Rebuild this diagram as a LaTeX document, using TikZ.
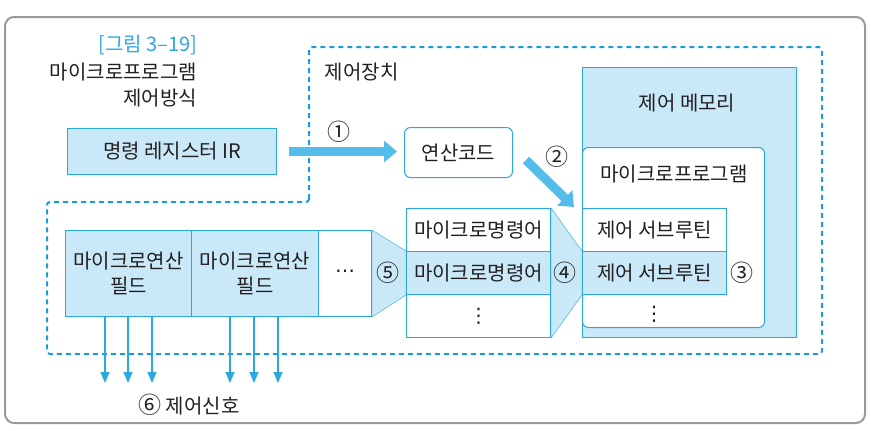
\documentclass[tikz,border=0pt]{standalone}
\usepackage{fontspec}
\setmainfont{Noto Sans CJK KR}
\newfontfamily\symfont{DejaVu Sans}
\usetikzlibrary{arrows.meta,backgrounds}
\definecolor{cellfill}{HTML}{C9E9F9}
\definecolor{cellline}{HTML}{2BA8E0}
\definecolor{dashblue}{HTML}{1E9BD7}
\definecolor{arrowfill}{HTML}{55BDEA}
\definecolor{framegray}{HTML}{9A9A9A}
\definecolor{inkgray}{HTML}{231F20}

\begin{document}
\begin{tikzpicture}[x=1pt,y=-1pt,line width=1pt,
  txt/.style={font=\fontsize{20}{25}\selectfont,text=inkgray},
  num/.style={font=\fontsize{23}{25}\selectfont,text=inkgray},
  cell/.style={draw=cellline,txt,inner sep=0,anchor=north west,align=center},
  bigarrow/.style={draw=arrowfill,line width=9pt,-{Triangle[width=21pt,length=13pt]}},
  sigarrow/.style={draw=cellline,line width=1.2pt,-{Triangle[width=9pt,length=11pt]}}]
  \useasboundingbox (0,0) rectangle (871,431);
  % frame and control unit boundary
  \draw[framegray,line width=2pt,rounded corners=9pt] (5,17) rectangle (865,423);
  \draw[dashblue,line width=2pt,dash pattern=on 5pt off 4pt,rounded corners=3pt]
    (309,202) -- (309,47) -- (822,47) -- (822,354) -- (47,354) -- (47,202) -- cycle;

  % titles
  \node[txt,text=cellline,anchor=east] (title) at (201,45) {[그림 3–19]};
  \node[txt,anchor=east] (sub-a) at (201,72) {마이크로프로그램};
  \node[txt,anchor=east] (sub-b) at (201,98) {제어방식};
  \node[txt,anchor=west] (unit) at (321,72) {제어장치};

  % instruction register and opcode
  \node[cell,fill=cellfill,minimum width=209pt,minimum height=46pt] (ir) at (67,128) {명령 레지스터 IR};
  \node[cell,fill=white,rounded corners=6pt,minimum width=108pt,minimum height=50pt] (opcode) at (404,127) {연산코드};

  % control memory
  \node[cell,fill=cellfill,minimum width=214pt,minimum height=270pt] (cmem) at (582,67) {};
  \node[txt] (cmem-lbl) at (687,103) {제어 메모리};
  \node[cell,fill=white,rounded corners=6pt,minimum width=182pt,minimum height=180pt] (mprog) at (582,147) {};
  \node[txt] (mprog-lbl) at (674,174) {마이크로프로그램};
  \node[cell,fill=white,minimum width=144pt,minimum height=43pt] (sr-1) at (582,208) {제어 서브루틴};
  \node[cell,fill=cellfill,minimum width=144pt,minimum height=43pt] (sr-2) at (582,251) {제어 서브루틴};
  \node[txt] (sr-dots) at (654,314) {\symfont ⋮};

  % micro instructions
  \node[cell,fill=white,minimum width=144pt,minimum height=43pt] (mi-1) at (406,208) {마이크로명령어};
  \node[cell,fill=cellfill,minimum width=144pt,minimum height=43pt] (mi-2) at (406,251) {마이크로명령어};
  \node[cell,fill=white,minimum width=144pt,minimum height=43pt] (mi-3) at (406,294) {\symfont ⋮};

  % micro operation fields
  \node[cell,fill=cellfill,minimum width=126pt,minimum height=86pt] (fld-1) at (65,230) {마이크로연산\\필드};
  \node[cell,fill=cellfill,minimum width=127pt,minimum height=86pt] (fld-2) at (191,230) {마이크로연산\\필드};
  \node[cell,fill=white,minimum width=53pt,minimum height=86pt] (fld-3) at (318,230) {\symfont ⋯};

  \begin{scope}[on background layer]
    \draw[cellline,fill=cellfill] (fld-3.north east) -- (mi-2.north west) -- (mi-2.south west) -- (fld-3.south east) -- cycle;
    \draw[cellline,fill=cellfill] (mi-1.north east) -- (sr-2.north west) -- (sr-2.south west) -- (mi-3.south east) -- cycle;
  \end{scope}

  % steps
  \draw[bigarrow,shorten <=12pt,shorten >=7pt] (ir.east) -- (ir.east -| opcode.west);
  \coordinate (a2-start) at (526,160);
  \coordinate (a2-end) at (574,207);
  \draw[bigarrow] (a2-start) -- (a2-end);
  \node[num] (n-1) at (339,132) {①};
  \node[num] (n-2) at (557,157) {②};
  \node[num] (n-3) at (742,273) {③};
  \node[num] (n-4) at (565,273) {④};
  \node[num] (n-5) at (388,273) {⑤};

  % control signals
  \foreach \x [count=\i] in {105,128,152,230,254,278}
    \coordinate (sig-\i) at (\x,383);
  \foreach \i in {1,2,3}
    \draw[sigarrow] (sig-\i |- fld-1.south) -- (sig-\i);
  \foreach \i in {4,5,6}
    \draw[sigarrow] (sig-\i |- fld-2.south) -- (sig-\i);
  \node[txt] (sig-lbl) at (189,405) {{\fontsize{23}{25}\selectfont ⑥} 제어신호};
\end{tikzpicture}
\end{document}
